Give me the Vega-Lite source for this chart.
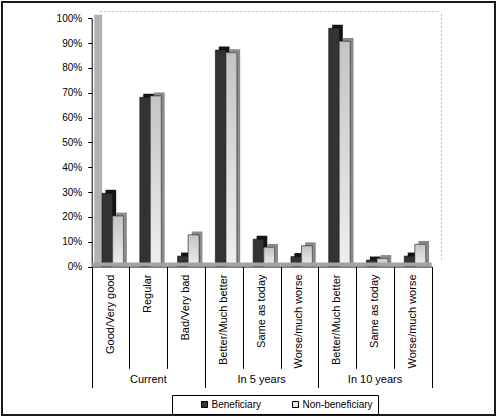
{
  "$schema": "https://vega.github.io/schema/vega-lite/v6.json",
  "width": 493,
  "height": 413,
  "autosize": {"type": "none"},
  "padding": {"left": 2, "top": 2, "right": 4, "bottom": 3},
  "background": "white",
  "config": {
    "font": "Liberation Sans",
    "view": {"stroke": "#1a1a1a", "strokeWidth": 2, "fill": "white"},
    "axis": {"grid": false, "title": null}
  },
  "data": {
    "values": [
      {"key": "Current|Good/Very good", "series": "Beneficiary", "pct": 29.5},
      {"key": "Current|Good/Very good", "series": "Non-beneficiary", "pct": 20.3},
      {"key": "Current|Regular", "series": "Beneficiary", "pct": 68.2},
      {"key": "Current|Regular", "series": "Non-beneficiary", "pct": 68.7},
      {"key": "Current|Bad/Very bad", "series": "Beneficiary", "pct": 4.2},
      {"key": "Current|Bad/Very bad", "series": "Non-beneficiary", "pct": 12.7},
      {"key": "In 5 years|Better/Much better", "series": "Beneficiary", "pct": 87.2},
      {"key": "In 5 years|Better/Much better", "series": "Non-beneficiary", "pct": 86.1},
      {"key": "In 5 years|Same as today", "series": "Beneficiary", "pct": 11},
      {"key": "In 5 years|Same as today", "series": "Non-beneficiary", "pct": 7.7},
      {"key": "In 5 years|Worse/much worse", "series": "Beneficiary", "pct": 4},
      {"key": "In 5 years|Worse/much worse", "series": "Non-beneficiary", "pct": 8.3},
      {"key": "In 10 years|Better/Much better", "series": "Beneficiary", "pct": 96},
      {"key": "In 10 years|Better/Much better", "series": "Non-beneficiary", "pct": 90.7},
      {"key": "In 10 years|Same as today", "series": "Beneficiary", "pct": 2.6},
      {"key": "In 10 years|Same as today", "series": "Non-beneficiary", "pct": 3.2},
      {"key": "In 10 years|Worse/much worse", "series": "Beneficiary", "pct": 4.2},
      {"key": "In 10 years|Worse/much worse", "series": "Non-beneficiary", "pct": 8.9}
    ]
  },
  "layer": [
    {
      "mark": {"type": "bar", "yOffset": -3.5},
      "encoding": {
        "x": {
          "field": "key", "type": "nominal",
          "scale": {
            "domain": ["Current|Good/Very good", "Current|Regular", "Current|Bad/Very bad", "In 5 years|Better/Much better", "In 5 years|Same as today", "In 5 years|Worse/much worse", "In 10 years|Better/Much better", "In 10 years|Same as today", "In 10 years|Worse/much worse"],
            "range": [89.7, 429.7], "paddingInner": 0, "paddingOuter": 0
          },
          "axis": {"orient": "top", "offset": -9, "position": 8, "domainColor": "#bdbdbd", "domainDash": [2, 2], "domainWidth": 1, "ticks": false, "labels": false}
        },
        "xOffset": {
          "field": "series", "type": "nominal",
          "scale": {"domain": ["Beneficiary", "Non-beneficiary"], "paddingInner": 0, "paddingOuter": 0.768, "align": 0.84}
        },
        "y": {
          "field": "pct", "type": "quantitative",
          "scale": {"domain": [0, 100], "range": [264.5, 16.3], "nice": false},
          "axis": {"orient": "right", "offset": -54, "position": -7, "domainColor": "#bdbdbd", "domainDash": [2, 2], "ticks": false, "labels": false}
        },
        "color": {"condition": {"test": "datum.series === 'Beneficiary'", "value": "#141414"}, "value": "#8a8a8a"}
      }
    },
    {
      "mark": {"type": "bar", "stroke": "#111111", "strokeWidth": 0.6},
      "encoding": {
        "x": {
          "field": "key", "type": "nominal",
          "axis": {"orient": "bottom", "offset": -148.5, "domainColor": "#000000", "domainWidth": 1, "ticks": false, "tickSize": 0, "labelAngle": -90, "labelAlign": "right", "labelBaseline": "middle", "labelPadding": 7.5, "labelFontSize": 11, "labelColor": "#000000", "labelLimit": 200, "labelOverlap": false, "labelExpr": "split(datum.label, '|')[1]"}
        },
        "xOffset": {
          "field": "series", "type": "nominal",
          "scale": {"domain": ["Beneficiary", "Non-beneficiary"], "paddingInner": 0, "paddingOuter": 0.768, "align": 0.63}
        },
        "y": {
          "field": "pct", "type": "quantitative",
          "axis": {"orient": "left", "offset": -89.7, "values": [0, 10, 20, 30, 40, 50, 60, 70, 80, 90, 100], "labelExpr": "datum.value + '%'", "tickSize": 4, "tickColor": "#000000", "domainColor": "#000000", "labelPadding": 6, "labelFontSize": 10, "labelColor": "#000000"}
        },
        "color": {
          "field": "series", "type": "nominal",
          "scale": {"domain": ["Beneficiary", "Non-beneficiary"], "range": ["#333333", "#e6e6e6"]},
          "legend": {
            "orient": "none", "legendX": 170, "legendY": 393, "direction": "horizontal", "title": null,
            "symbolType": "square", "symbolSize": 36, "symbolStrokeColor": "#000000", "symbolStrokeWidth": 1,
            "labelFontSize": 10, "labelColor": "#000000", "labelOffset": 2, "columnPadding": 6, "symbolOffset": 23,
            "padding": 4.5, "strokeColor": "#000000", "fillColor": "white",
            "labelExpr": "datum.label == 'Non-beneficiary' ? datum.label + '\u00a0\u00a0\u00a0\u00a0\u00a0\u00a0\u00a0\u00a0' : datum.label"
          }
        }
      }
    },
    {
      "transform": [{"filter": "datum.series === 'Non-beneficiary'"}],
      "mark": {
        "type": "bar", "stroke": "#505050", "strokeWidth": 0.6,
        "fill": {"gradient": "linear", "x1": 0, "y1": 0, "x2": 0, "y2": 1, "stops": [{"offset": 0, "color": "#c4c4c4"}, {"offset": 1, "color": "#efefef"}]}
      },
      "encoding": {
        "x": {
          "field": "key", "type": "nominal",
          "axis": {"orient": "bottom", "offset": -148.5, "domain": false, "labels": false, "tickBand": "extent", "tickColor": "#000000", "tickWidth": 1,
            "tickSize": {"condition": {"test": "datum.extra || indexof(datum.value, 'Bad/') >= 0 || indexof(datum.value, 'Worse/') >= 0", "value": 121}, "value": 101.8}}
        },
        "xOffset": {
          "field": "series", "type": "nominal",
          "scale": {"domain": ["Beneficiary", "Non-beneficiary"], "paddingInner": 0, "paddingOuter": 0.768, "align": 0.63}
        },
        "y": {
          "field": "pct", "type": "quantitative",
          "axis": {"orient": "left", "offset": -95.7, "position": -4, "domainColor": "#b2b2b2", "domainWidth": 8, "ticks": false, "labels": false}
        }
      }
    },
    {
      "transform": [{"filter": "datum.series === 'Beneficiary'"}],
      "mark": {"type": "bar", "color": "#a3a3a3"},
      "encoding": {
        "x": {
          "field": "key", "type": "nominal",
          "axis": {"orient": "bottom", "offset": -148.5, "domain": false, "ticks": false, "tickSize": 0,
            "values": ["Current|Regular", "In 5 years|Same as today", "In 10 years|Same as today"],
            "labelExpr": "split(datum.label, '|')[0]", "labelAngle": 0, "labelAlign": "center", "labelBaseline": "top", "labelPadding": 107, "labelFontSize": 11, "labelColor": "#000000"}
        },
        "y": {"datum": 0, "axis": null},
        "y2": {"datum": 1.6}
      }
    }
  ],
  "resolve": {
    "axis": {"x": "independent", "y": "independent"},
    "scale": {"xOffset": "independent"}
  }
}
